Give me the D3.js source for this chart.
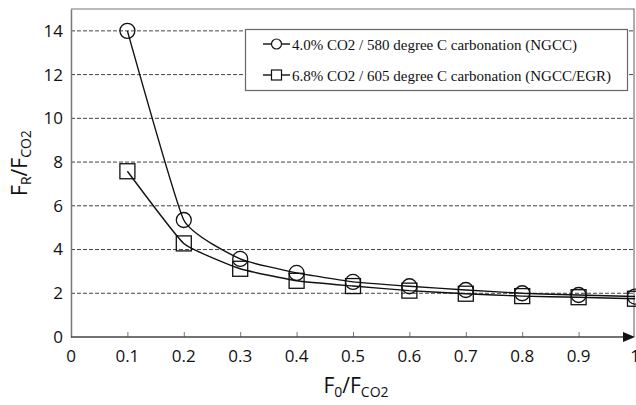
<!DOCTYPE html>
<html><head><meta charset="utf-8">
<script src="https://cdn.jsdelivr.net/npm/d3@7"></script>
<style>body{margin:0;background:#fff}svg{display:block}</style>
</head><body>
<svg id="c" width="636" height="405"></svg>
<script>
const xValues = [0.1,0.2,0.3,0.4,0.5,0.6,0.7,0.8,0.9,1.0];
const seriesNGCC = [14.0,5.35,3.57,2.93,2.52,2.32,2.15,2.0,1.92,1.85];
const seriesEGR  = [7.58,4.28,3.12,2.57,2.33,2.12,1.98,1.87,1.82,1.75];
const seriesNames = ["4.0% CO2 / 580 degree C carbonation (NGCC)","6.8% CO2 / 605 degree C carbonation (NGCC/EGR)"];
const xTicks = [0,0.1,0.2,0.3,0.4,0.5,0.6,0.7,0.8,0.9,1];
const yTicks = [0,2,4,6,8,10,12,14];

const svg = d3.select("#c");
const x = d3.scaleLinear().domain([0,1]).range([71,635]);
const y = d3.scaleLinear().domain([0,15]).range([337,9]);
const tickFont = "'Open Sans', sans-serif";

// frame (top & right)
svg.append("path").attr("d",`M${x(0)},${y(15)}H${x(1)-1}V${y(0)}`)
  .attr("fill","none").attr("stroke","#777").attr("stroke-width",1.2);

// gridlines
svg.append("g").selectAll("line").data(yTicks.filter(d=>d>0)).join("line")
  .attr("x1",x(0)).attr("x2",x(1)-1).attr("y1",d=>y(d)).attr("y2",d=>y(d))
  .attr("stroke","#444").attr("stroke-width",1).attr("stroke-dasharray","4,2");

// y axis
const ya = svg.append("g").attr("transform",`translate(${x(0)},0)`)
  .call(d3.axisLeft(y).tickValues(yTicks).tickSize(0).tickPadding(8).tickFormat(d3.format("d")));
ya.select(".domain").attr("stroke","#777").attr("stroke-width",1.5);
ya.selectAll("text").attr("font-family",tickFont).attr("font-size",17).attr("fill","#111");

// x axis
const xa = svg.append("g").attr("transform",`translate(0,${y(0)})`)
  .call(d3.axisTop(x).tickValues(xTicks.filter(d=>d>0&&d<1)).tickSize(5).tickFormat(""));
xa.select(".domain").remove();
xa.selectAll(".tick line").attr("stroke","#777");
svg.append("line").attr("x1",x(0)).attr("x2",x(1)-8).attr("y1",y(0)).attr("y2",y(0))
  .attr("stroke","#444").attr("stroke-width",1.5);
svg.append("path").attr("d",`M${x(1)},${y(0)}l-12,-5v10z`).attr("fill","#111");
svg.append("g").selectAll("text").data(xTicks).join("text")
  .attr("x",d=>x(d)).attr("y",y(0)+25).attr("text-anchor","middle")
  .attr("font-family",tickFont).attr("font-size",17).attr("fill","#111")
  .text(d=>d3.format("~g")(d));

// axis titles
const yt = svg.append("text").attr("transform",`translate(27,163) rotate(-90)`)
  .attr("text-anchor","middle").attr("font-family",tickFont).attr("font-size",21).attr("fill","#111");
yt.append("tspan").text("F");
yt.append("tspan").attr("font-size",14).attr("dy",4).text("R");
yt.append("tspan").attr("dy",-4).text("/F");
yt.append("tspan").attr("font-size",14).attr("dy",4).text("CO2");

const xt = svg.append("text").attr("x",356).attr("y",393)
  .attr("text-anchor","middle").attr("font-family",tickFont).attr("font-size",21).attr("fill","#111");
xt.append("tspan").text("F");
xt.append("tspan").attr("font-size",14).attr("dy",4).text("0");
xt.append("tspan").attr("dy",-4).text("/F");
xt.append("tspan").attr("font-size",14).attr("dy",4).text("CO2");

// series
const series = [
  {vals:seriesNGCC, shape:"circle"},
  {vals:seriesEGR, shape:"square"}
];
const line = d3.line().x(d=>x(d[0])).y(d=>y(d[1])).curve(d3.curveCardinal.tension(0.6));
function marker(g, shape, cx, cy){
  if(shape==="circle") g.append("circle").attr("cx",cx).attr("cy",cy).attr("r",7.5)
      .attr("fill","none").attr("stroke","#111").attr("stroke-width",1.3);
  else g.append("rect").attr("x",cx-7.5).attr("y",cy-7.5).attr("width",15).attr("height",15)
      .attr("fill","none").attr("stroke","#111").attr("stroke-width",1.3);
}
series.forEach(s=>{
  const pts = xValues.map((xv,i)=>[xv,s.vals[i]]);
  svg.append("path").datum(pts).attr("d",line).attr("fill","none").attr("stroke","#111").attr("stroke-width",1.4);
  const g = svg.append("g");
  pts.forEach(p=>marker(g,s.shape,x(p[0]),y(p[1])));
});

// legend
const lg = svg.append("g");
lg.append("rect").attr("x",245.5).attr("y",29.5).attr("width",382).attr("height",61)
  .attr("fill","#fff").attr("stroke","#666").attr("stroke-width",1.2);
series.forEach((s,i)=>{
  const ly = 44 + i*31;
  lg.append("line").attr("x1",263).attr("x2",290).attr("y1",ly).attr("y2",ly).attr("stroke","#111").attr("stroke-width",1.4);
  if(s.shape==="circle") lg.append("circle").attr("cx",276.5).attr("cy",ly).attr("r",5)
      .attr("fill","#fff").attr("stroke","#111").attr("stroke-width",1.2);
  else lg.append("rect").attr("x",271.5).attr("y",ly-5).attr("width",10).attr("height",10)
      .attr("fill","#fff").attr("stroke","#111").attr("stroke-width",1.2);
  lg.append("text").attr("x",292).attr("y",ly+5.5).attr("font-family","'Liberation Serif', serif")
    .attr("font-size",15).attr("fill","#111").text(seriesNames[i]);
});
</script>
</body></html>
